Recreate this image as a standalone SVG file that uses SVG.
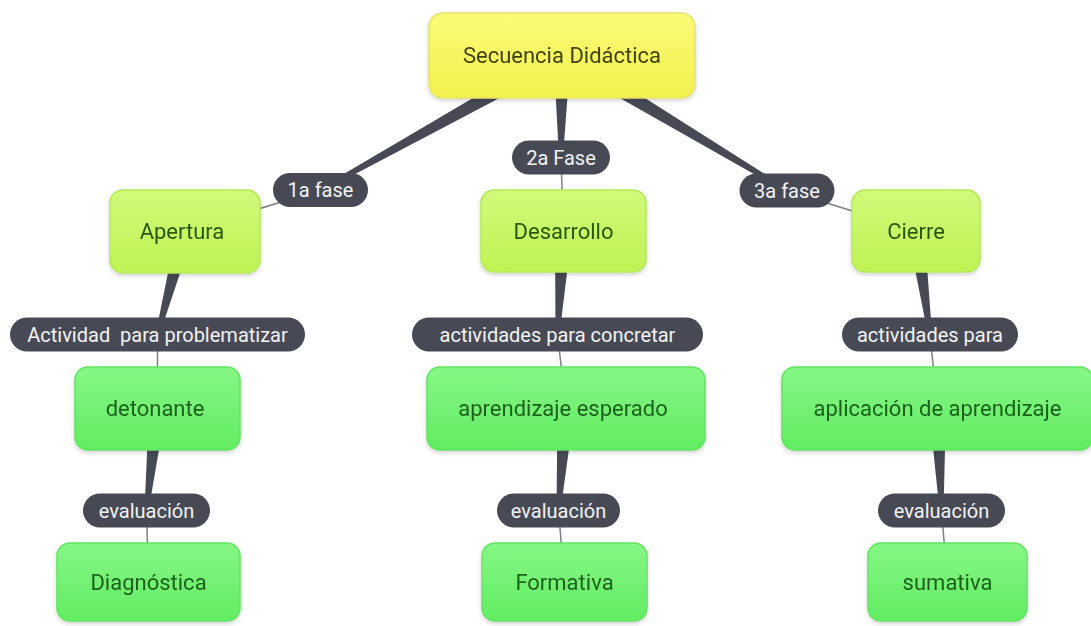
<svg xmlns="http://www.w3.org/2000/svg" width="1091" height="626" viewBox="0 0 1091 626">
<style>
.node rect{stroke-width:1.5}
.yel rect{fill:url(#gy);stroke:#e4e46a}
.lime rect{fill:url(#gl);stroke:#b4ea58}
.grn rect{fill:url(#gg);stroke:#62e462}
.node text{font-family:Roboto,"Liberation Sans",sans-serif;font-size:22px;text-anchor:middle}
.yel text{fill:#42420e}
.lime text{fill:#2c570c}
.grn text{fill:#1c621c}
.pill rect{fill:#474a55}
.pill text{font-family:Roboto,"Liberation Sans",sans-serif;font-size:20px;fill:#f2f2f4;text-anchor:middle}
.wedge{fill:#474a55}
.thin{stroke:#7d8088;stroke-width:1.5;fill:none}
</style>
<defs>
<linearGradient id="gy" x1="0" y1="0" x2="0" y2="1"><stop offset="0" stop-color="#fbfb78"/><stop offset="1" stop-color="#f1f14e"/></linearGradient>
<linearGradient id="gl" x1="0" y1="0" x2="0" y2="1"><stop offset="0" stop-color="#d2fa7a"/><stop offset="1" stop-color="#bff253"/></linearGradient>
<linearGradient id="gg" x1="0" y1="0" x2="0" y2="1"><stop offset="0" stop-color="#86f786"/><stop offset="1" stop-color="#62ec62"/></linearGradient>
<filter id="sh" x="-10%" y="-20%" width="120%" height="150%"><feDropShadow dx="0" dy="2" stdDeviation="2" flood-color="#000" flood-opacity="0.18"/></filter>
</defs>
<rect width="1091" height="626" fill="#ffffff"/>
<g id="connectors">
<polygon class="wedge" points="557.9,48.1 566.1,62.9 321.5,191.7 319.5,188.3"/>
<polygon class="wedge" points="553.5,55.4 570.5,55.6 563,157.5 559,157.5"/>
<polygon class="wedge" points="557.6,62.8 566.4,48.2 788.0,188.8 786.0,192.2"/>
<polygon class="wedge" points="176.8,229.3 193.2,233.7 159.4,335.0 155.6,334.0"/>
<polygon class="wedge" points="555.0,230.5 572.0,231.5 559.5,334.6 555.5,334.4"/>
<polygon class="wedge" points="907.6,232.1 924.4,229.9 932.0,334.2 928.0,334.8"/>
<polygon class="wedge" points="149.1,407.6 165.9,409.4 148.5,510.7 144.5,510.3"/>
<polygon class="wedge" points="557.5,407.9 574.5,409.1 560.5,510.7 556.5,510.3"/>
<polygon class="wedge" points="929.0,408.8 946.0,408.2 943.5,510.4 939.5,510.6"/>
<line class="thin" x1="320.5" y1="190" x2="185" y2="231.5"/>
<line class="thin" x1="561" y1="157.5" x2="563.5" y2="231"/>
<line class="thin" x1="787" y1="190.5" x2="916" y2="231"/>
<line class="thin" x1="157.5" y1="334.5" x2="157.5" y2="408.5"/>
<line class="thin" x1="557.5" y1="334.5" x2="566" y2="408.5"/>
<line class="thin" x1="930" y1="334.5" x2="937.5" y2="408.5"/>
<line class="thin" x1="146.5" y1="510.5" x2="148.5" y2="582"/>
<line class="thin" x1="558.5" y1="510.5" x2="564.5" y2="582"/>
<line class="thin" x1="941.5" y1="510.5" x2="947.5" y2="582"/>
<g class="pill" id="lbl-1a"><rect x="273" y="173" width="95" height="34" rx="17"/><text x="320.5" y="197">1a fase</text></g>
<g class="pill" id="lbl-2a"><rect x="512" y="140.5" width="98" height="34" rx="17"/><text x="561" y="164.5">2a Fase</text></g>
<g class="pill" id="lbl-3a"><rect x="739.5" y="173.5" width="95" height="34" rx="17"/><text x="787" y="197.5">3a fase</text></g>
<g class="pill" id="lbl-act1"><rect x="10" y="317.5" width="295" height="34" rx="17"/><text x="157.5" y="341.5" xml:space="preserve">Actividad  para problematizar</text></g>
<g class="pill" id="lbl-act2"><rect x="412" y="317.5" width="291" height="34" rx="17"/><text x="557.5" y="341.5">actividades para concretar</text></g>
<g class="pill" id="lbl-act3"><rect x="842" y="317.5" width="176" height="34" rx="17"/><text x="930" y="341.5">actividades para</text></g>
<g class="pill" id="lbl-ev1"><rect x="83" y="493.5" width="127" height="34" rx="17"/><text x="146.5" y="517.5">evaluación</text></g>
<g class="pill" id="lbl-ev2"><rect x="497" y="493.5" width="123" height="34" rx="17"/><text x="558.5" y="517.5">evaluación</text></g>
<g class="pill" id="lbl-ev3"><rect x="878" y="493.5" width="127" height="34" rx="17"/><text x="941.5" y="517.5">evaluación</text></g>
</g>
<g id="n-secuencia" class="node yel" filter="url(#sh)"><rect x="429" y="13" width="266" height="85" rx="14"/><text x="562" y="63">Secuencia Didáctica</text></g>
<g id="n-apertura" class="node lime" filter="url(#sh)"><rect x="110" y="190" width="150" height="83" rx="13"/><text x="182" y="239">Apertura</text></g>
<g id="n-desarrollo" class="node lime" filter="url(#sh)"><rect x="481" y="190" width="165" height="82" rx="13"/><text x="563.5" y="239">Desarrollo</text></g>
<g id="n-cierre" class="node lime" filter="url(#sh)"><rect x="852" y="190" width="128" height="82" rx="13"/><text x="916" y="239">Cierre</text></g>
<g id="n-detonante" class="node grn" filter="url(#sh)"><rect x="75" y="367" width="165" height="83" rx="13"/><text x="155" y="416">detonante</text></g>
<g id="n-aprendizaje" class="node grn" filter="url(#sh)"><rect x="427" y="367" width="278" height="83" rx="13"/><text x="563" y="416">aprendizaje esperado</text></g>
<g id="n-aplicacion" class="node grn" filter="url(#sh)"><rect x="782" y="367" width="311" height="83" rx="13"/><text x="937.5" y="416">aplicación de aprendizaje</text></g>
<g id="n-diagnostica" class="node grn" filter="url(#sh)"><rect x="57" y="543" width="183" height="78" rx="13"/><text x="148.5" y="590">Diagnóstica</text></g>
<g id="n-formativa" class="node grn" filter="url(#sh)"><rect x="482" y="543" width="165" height="78" rx="13"/><text x="564.5" y="590">Formativa</text></g>
<g id="n-sumativa" class="node grn" filter="url(#sh)"><rect x="868" y="543" width="159" height="78" rx="13"/><text x="947.5" y="590">sumativa</text></g>
</svg>
